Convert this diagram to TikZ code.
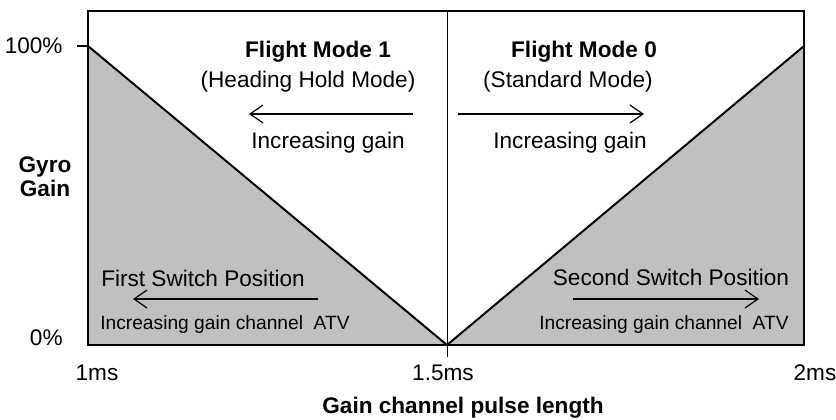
\documentclass[tikz,border=0pt]{standalone}
\usepackage{fontspec}
\setmainfont{Liberation Sans}
\usetikzlibrary{arrows.meta}

\begin{document}
\begin{tikzpicture}[x=0.5pt,y=-0.5pt,
    label_big/.style ={inner sep=0pt, font=\fontsize{11.3}{13}\selectfont},
    label_bold/.style ={label_big, font=\fontsize{11.3}{13}\selectfont\bfseries},
    label_small/.style ={inner sep=0pt, font=\fontsize{9.6}{11}\selectfont},
    gain_area/.style ={fill=gainGray, draw=none},
    slope/.style ={draw, line width=1pt},
    gain_arrow/.style ={draw, line width=0.75pt,
      -{Straight Barb[length=6.5pt, width=9pt, line width=0.6pt]}}]
    \definecolor{gainGray}{HTML}{C0C0C0}
    \useasboundingbox (0,0) rectangle (836,419);
    % corners of the chart
    \coordinate (topLeft) at (88,11);
    \coordinate (botRight) at (804,345);
    \coordinate (fullLeft) at (88,46);
    \coordinate (fullRight) at (804,46);
    \coordinate (zeroMid) at (447,345);
    \coordinate (midTop) at (447,11);
    \coordinate (midLow) at (447,357);
    \coordinate (tickEnd) at (77,46);
    % shaded gain areas
    \path[gain_area] (fullLeft) -- (88,345) -- (zeroMid) -- cycle;
    \path[gain_area] (zeroMid) -- (botRight) -- (fullRight) -- cycle;
    \path[slope] (fullLeft) -- (zeroMid) -- (fullRight);
    \draw[line width=1pt] (topLeft) rectangle (botRight);
    \draw[line width=0.5pt] (midTop) -- (midLow);
    \draw[line width=0.75pt] (tickEnd) -- (fullLeft);
    % axis labels
    \node[label_big, anchor=east] (full) at (63,46) {100\%};
    \node[label_big, anchor=east] (zero) at (63,338) {0\%};
    \node[label_bold] (gyro) at (45,167) {Gyro};
    \node[label_bold] (gain) at (45,188) {Gain};
    \node[label_big] (oneMs) at (97,373) {1ms};
    \node[label_big] (midMs) at (443,373) {1.5ms};
    \node[label_big] (twoMs) at (815,373) {2ms};
    \node[label_bold] (pulse) at (463,408) {Gain channel pulse length};
    % flight mode 1 - left
    \node[label_bold] (mode1) at (318,52) {Flight Mode 1};
    \node[label_big] (hold) at (308,82) {(Heading Hold Mode)};
    \coordinate (holdStart) at (413,114);
    \coordinate (holdEnd) at (249,114);
    \node[label_big] (holdGain) at (328,143) {Increasing gain};
    % flight mode 0 - right
    \node[label_bold] (mode0) at (584,52) {Flight Mode 0};
    \node[label_big] (standard) at (568,82) {(Standard Mode)};
    \coordinate (stdStart) at (458,114);
    \coordinate (stdEnd) at (644,114);
    \node[label_big] (stdGain) at (570,143) {Increasing gain};
    % switch positions
    \node[label_big] (first) at (203,278) {First Switch Position};
    \coordinate (firstStart) at (318,299);
    \coordinate (firstEnd) at (133,299);
    \node[label_small] (firstAtv) at (225,325) {Increasing gain channel\ \ ATV};
    \node[label_big] (second) at (671,277) {Second Switch Position};
    \coordinate (secondStart) at (573,299);
    \coordinate (secondEnd) at (759,299);
    \node[label_small] (secondAtv) at (664,325) {Increasing gain channel\ \ ATV};
    % direction arrows
    \begin{scope}[every path/.style=gain_arrow]
     \path (holdStart) -- (holdEnd);
     \path (stdStart) -- (stdEnd);
     \path (firstStart) -- (firstEnd);
     \path (secondStart) -- (secondEnd);
    \end{scope}
\end{tikzpicture}
\end{document}
